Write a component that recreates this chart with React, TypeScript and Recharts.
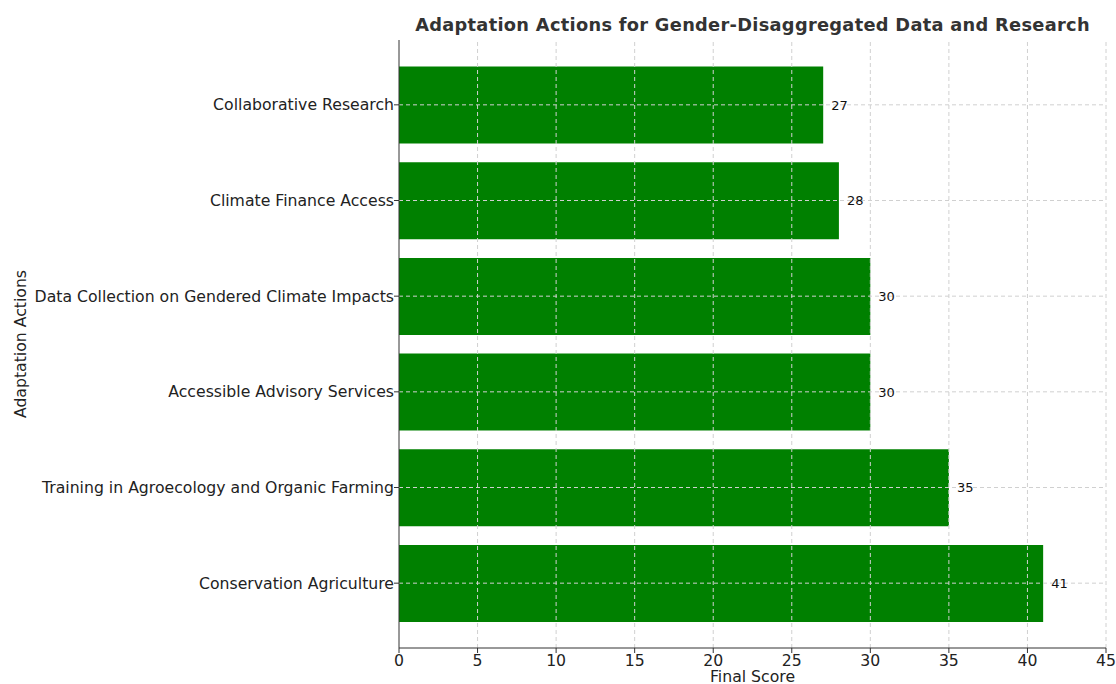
import { BarChart, Bar, XAxis, YAxis, ReferenceLine, LabelList } from 'recharts'

// categories listed top to bottom as drawn
const actions = [
    'Collaborative Research',
    'Climate Finance Access',
    'Data Collection on Gendered Climate Impacts',
    'Accessible Advisory Services',
    'Training in Agroecology and Organic Farming',
    'Conservation Agriculture',
]
const scores = [27, 28, 30, 30, 35, 41]
const xTicks = [0, 5, 10, 15, 20, 25, 30, 35, 40, 45]

const FONT = '"DejaVu Sans", sans-serif'
const GRID = '#d0d0d0'
const FS = 15.7

export default function App() {
    const chartData = actions.map((action, i) => ({ action, score: scores[i] }))

    return (
        <div style={{ position: 'relative', width: 1116, height: 684, fontFamily: FONT }}>
            <style>{'body{margin:0;overflow:hidden}'}</style>
            {/* Title */}
            <div
                style={{
                    position: 'absolute',
                    left: 399,
                    width: 707,
                    top: 14,
                    textAlign: 'center',
                    fontSize: 17.8,
                    lineHeight: '22px',
                    fontWeight: 'bold',
                    color: '#333',
                    letterSpacing: 0.3,
                }}
            >
                Adaptation Actions for Gender-Disaggregated Data and Research
            </div>
            <BarChart
                width={1116}
                height={684}
                data={chartData}
                layout="vertical"
                margin={{ top: 40, right: 10, left: 29, bottom: 0 }}
                barCategoryGap="10%"
            >
                <XAxis
                    type="number"
                    domain={[0, 45]}
                    ticks={xTicks}
                    height={36}
                    tick={{ fill: '#222', fontSize: FS, fontFamily: FONT }}
                    tickSize={5}
                    tickMargin={2}
                    stroke="#333"
                    label={{ value: 'Final Score', position: 'insideBottom', offset: 2, fill: '#222', fontSize: FS, fontFamily: FONT }}
                />
                <YAxis
                    type="category"
                    dataKey="action"
                    width={370}
                    padding={{ top: 17, bottom: 17 }}
                    tick={{ fill: '#222', fontSize: FS, fontFamily: FONT }}
                    tickSize={5}
                    tickMargin={0}
                    stroke="#333"
                    label={{ value: 'Adaptation Actions', angle: -90, position: 'insideLeft', offset: -9, fill: '#222', fontSize: FS, fontFamily: FONT, style: { textAnchor: 'middle' } }}
                />
                <Bar dataKey="score" fill="#008000" isAnimationActive={false}>
                    <LabelList dataKey="score" position="right" offset={8} fill="#111" fontSize={13} fontFamily={FONT} />
                </Bar>
                {/* grid drawn over the bars like the original */}
                {xTicks.slice(1).map(t => (
                    <ReferenceLine key={t} x={t} stroke={GRID} strokeDasharray="4 3" strokeWidth={1} />
                ))}
                {actions.map(a => (
                    <ReferenceLine key={a} y={a} stroke={GRID} strokeDasharray="4 3" strokeWidth={1} />
                ))}
            </BarChart>
        </div>
    )
}
